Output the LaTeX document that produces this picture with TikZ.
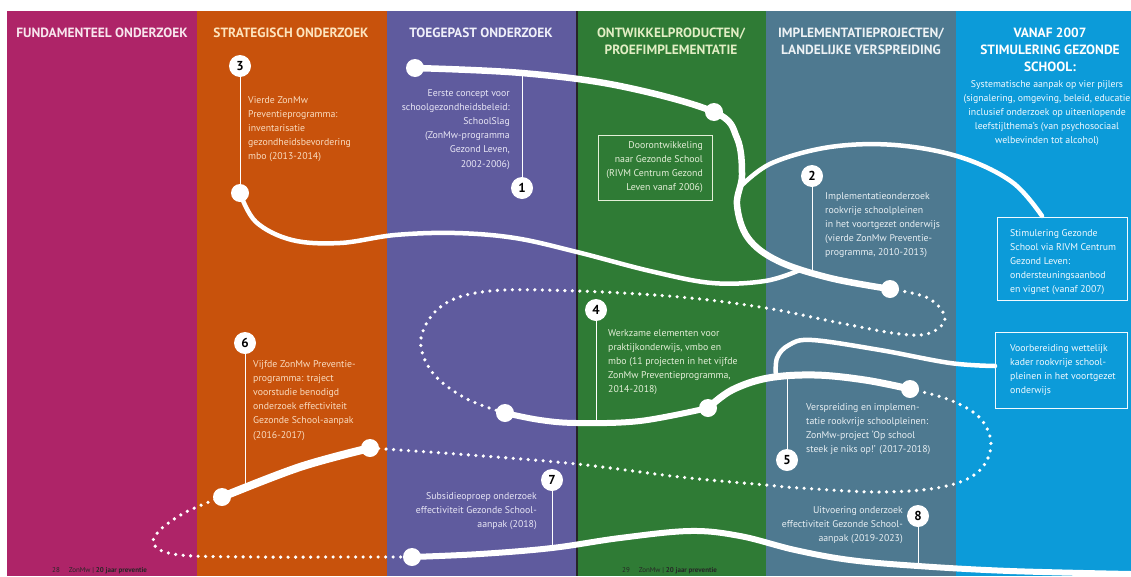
\documentclass[tikz,border=0pt]{standalone}
\usepackage{fontspec}
\setmainfont{PT Sans}
\definecolor{cMag}{HTML}{AE2468}
\definecolor{cOra}{HTML}{C8520C}
\definecolor{cPur}{HTML}{5F5B9E}
\definecolor{cGre}{HTML}{2F7B35}
\definecolor{cSla}{HTML}{4E7990}
\definecolor{cBlu}{HTML}{0C9BD9}
\definecolor{hMag}{HTML}{F8E6EE}
\definecolor{hOra}{HTML}{FDE4BE}
\definecolor{hPur}{HTML}{F0F0FA}
\definecolor{hGre}{HTML}{E2EEC4}
\definecolor{hSla}{HTML}{EDF2F5}
\definecolor{tOra}{HTML}{F9DCC0}
\definecolor{tPur}{HTML}{E8E6F5}
\definecolor{tGre}{HTML}{E4EFD8}
\definecolor{tSla}{HTML}{E8EFF3}
\definecolor{tBlu}{HTML}{F2FAFF}
\begin{document}
\begin{tikzpicture}[x=1pt,y=-1pt,
  hdr/.style={font=\bfseries\fontsize{13.4}{17}\selectfont, align=center, inner sep=0},
  body/.style={font=\fontsize{9.8}{14.2}\selectfont, inner sep=0},
  num/.style={circle, fill=white, minimum size=22, inner sep=0, font=\bfseries\fontsize{13}{13}\selectfont, text=black},
  dot/.style={circle, fill=white, minimum size=18, inner sep=0},
  road/.style={white, line width=6, line cap=round, line join=round},
  dots/.style={white, line width=3.6, line cap=round, dash pattern=on 0pt off 7.5pt},
  stem/.style={white, line width=1},
  frame/.style={line width=0.8},
  foot/.style={font=\fontsize{7}{7}\selectfont, text=black!85, anchor=base west, inner sep=0}]
\useasboundingbox (0,0) rectangle (1131,576);
\fill[white] (0,0) rectangle (1131,576);
% columns
\fill[cMag] (7,11) rectangle (197,576);
\fill[cOra] (197,11) rectangle (387,576);
\fill[cPur] (387,11) rectangle (577,576);
\fill[cGre] (577,11) rectangle (766,576);
\fill[cSla] (766,11) rectangle (956,576);
\fill[cBlu] (956,11) rectangle (1131,576);
\draw[black!85, line width=1.3] (577,11) -- (577,576);
% headers
\node[hdr, text=hMag] (h1) at (102,33) {FUNDAMENTEEL ONDERZOEK};
\node[hdr, text=hOra] (h2) at (291,33) {STRATEGISCH ONDERZOEK};
\node[hdr, text=hPur] (h3) at (481,33) {TOEGEPAST ONDERZOEK};
\node[hdr, text=hGre] (h4) at (671,41.5) {ONTWIKKELPRODUCTEN/\\PROEFIMPLEMENTATIE};
\node[hdr, text=hSla] (h5) at (861,41.5) {IMPLEMENTATIEPROJECTEN/\\LANDELIJKE VERSPREIDING};
\node[hdr, text=white] (h6) at (1050,50) {VANAF 2007\\STIMULERING GEZONDE\\SCHOOL:};
% path points
\coordinate (p1) at (415,68);
\coordinate (p2) at (714,112);
\coordinate (p3) at (240,193);
\coordinate (p4) at (890,289);
\coordinate (p5) at (505,413);
\coordinate (p6) at (708,408);
\coordinate (p7) at (910,389);
\coordinate (p8) at (370,448);
\coordinate (p9) at (222,497);
\coordinate (p10) at (412,557);
\coordinate (s1) at (522,73);
\coordinate (s2) at (812,271);
\coordinate (s4) at (596,422);
\coordinate (s6) at (245,489);
\coordinate (s5) at (787,376);
\coordinate (s7) at (552,548);
\coordinate (s8) at (918,566);
\coordinate (a1) at (741,186);
\coordinate (a2) at (1042,216);
\coordinate (b1) at (776,378);
\coordinate (b2) at (995,366);
\coordinate (e1) at (1131,574);
% roads
\draw[road, line width=6.5] plot[smooth, tension=0.6] coordinates {(p1) (s1) (620,86) (p2) (737,138) (742,175) (737,205) (748,238) (778,261) (830,278) (p4)};
\draw[road, line width=4.5] plot[smooth, tension=0.6] coordinates {(p3) (256,222) (292,240) (340,243) (395,235) (455,233) (515,238) (577,252) (650,271) (712,283) (765,281) (800,270)};
\draw[road, line width=4.5] plot[smooth, tension=0.6] coordinates {(a1) (772,163) (830,147) (895,145) (960,157) (1012,182) (a2)};
\draw[dots] plot[smooth, tension=0.6] coordinates {(p4) (928,298) (945,318) (930,333) (900,334) (840,323) (766,308) (680,297) (577,291) (490,291) (443,305) (421,338) (432,372) (465,398) (p5)};
\draw[road] plot[smooth, tension=0.6] coordinates {(p5) (540,420) (577,423) (640,421) (p6)};
\draw[road, line width=7] plot[smooth, tension=0.6] coordinates {(p6) (732,390) (768,378) (815,375) (865,380) (p7)};
\draw[road, line width=4.5] plot[smooth, tension=0.6] coordinates {(b1) (777,358) (789,345) (812,340) (880,350) (950,363) (b2)};
\draw[dots] plot[smooth, tension=0.6] coordinates {(p7) (950,400) (980,418) (991,445) (978,472) (942,487) (880,492) (800,488) (766,485) (680,477) (577,464) (470,455) (p8)};
\draw[road, line width=8] plot[smooth, tension=0.6] coordinates {(p8) (300,467) (p9)};
\draw[dots] plot[smooth, tension=0.6] coordinates {(p9) (186,512) (160,530) (154,545) (180,555) (260,557) (340,557) (p10)};
\draw[road] plot[smooth, tension=0.6] coordinates {(p10) (480,554) (s7) (620,538) (690,531) (740,536) (795,550) (850,560) (s8) (1010,571) (e1)};
% dots
\foreach \p in {p1,p2,p3,p4,p5,p6,p7,p8,p9,p10} \node[dot] (d\p) at (\p) {};
% number circles
\node[num] (n1) at (522,188) {1};
\node[num] (n2) at (812,176) {2};
\node[num] (n3) at (240,66) {3};
\node[num] (n4) at (596,310) {4};
\node[num] (n5) at (787,460) {5};
\node[num] (n6) at (245,343) {6};
\node[num] (n7) at (552,480) {7};
\node[num] (n8) at (918,516) {8};
\draw[stem] (n1) -- (s1);
\draw[stem] (n2) -- (s2);
\draw[stem] (n3) -- (dp3);
\draw[stem] (n4) -- (s4);
\draw[stem] (n5) -- (s5);
\draw[stem] (n6) -- (s6);
\draw[stem] (n7) -- (s7);
\draw[stem] (n8) -- (s8);
% texts
\node[body, text=tOra, align=left, anchor=north west] (t3) at (248,96) {Vierde ZonMw\\Preventieprogramma:\\inventarisatie\\gezondheidsbevordering\\mbo (2013-2014)};
\node[body, text=tPur, align=right, anchor=north east] (t1) at (510,89) {Eerste concept voor\\schoolgezondheidsbeleid:\\SchoolSlag\\(ZonMw-programma\\Gezond Leven,\\2002-2006)};
\node[body, text=tGre, align=right, anchor=north east] (tb1) at (703,141) {Doorontwikkeling\\naar Gezonde School\\(RIVM Centrum Gezond\\Leven vanaf 2006)};
\draw[tGre, frame] (598,135) rectangle (712,200);
\node[body, text=tSla, align=left, anchor=north west] (t2) at (825,192) {Implementatieonderzoek\\rookvrije schoolpleinen\\in het voortgezet onderwijs\\(vierde ZonMw Preventie-\\programma, 2010-2013)};
\node[body, text=tBlu, align=center, anchor=north] (tv) at (1047,80) {Systematische aanpak op vier pijlers\\(signalering, omgeving, beleid, educatie\\inclusief onderzoek op uiteenlopende\\leefstijlthema’s (van psychosociaal\\welbevinden tot alcohol)};
\node[body, text=tBlu, align=left, anchor=north west] (tb2) at (1010,229) {Stimulering Gezonde\\School via RIVM Centrum\\Gezond Leven:\\ondersteuningsaanbod\\en vignet (vanaf 2007)};
\draw[tBlu, frame] (997,217) rectangle (1127,300);
\node[body, text=tBlu, align=left, anchor=north west] (tb3) at (1010,344) {Voorbereiding wettelijk\\kader rookvrije school-\\pleinen in het voortgezet\\onderwijs};
\draw[tBlu, frame] (995,332) rectangle (1127,408);
\node[body, text=tGre, align=left, anchor=north west] (t4) at (608,329) {Werkzame elementen voor\\praktijkonderwijs, vmbo en\\mbo (11 projecten in het vijfde\\ZonMw Preventieprogramma,\\2014-2018)};
\node[body, text=tOra, align=left, anchor=north west] (t6) at (253,360) {Vijfde ZonMw Preventie-\\programma: traject\\voorstudie benodigd\\onderzoek effectiviteit\\Gezonde School-aanpak\\(2016-2017)};
\node[body, text=tSla, align=left, anchor=north west] (t5) at (806,403) {Verspreiding en implemen-\\tatie rookvrije schoolpleinen:\\ZonMw-project ‘Op school\\steek je niks op!’ (2017-2018)};
\node[body, text=tPur, align=right, anchor=north east] (t7) at (537,492) {Subsidieoproep onderzoek\\effectiviteit Gezonde School-\\aanpak (2018)};
\node[body, text=tSla, align=right, anchor=north east] (t8) at (903,506) {Uitvoering onderzoek\\effectiviteit Gezonde School-\\aanpak (2019-2023)};
% footers
\node[foot] (f1) at (52,572) {28\hspace{9pt}ZonMw | \textbf{20 jaar preventie}};
\node[foot] (f2) at (622,572) {29\hspace{9pt}ZonMw | \textbf{20 jaar preventie}};
\end{tikzpicture}
\end{document}
